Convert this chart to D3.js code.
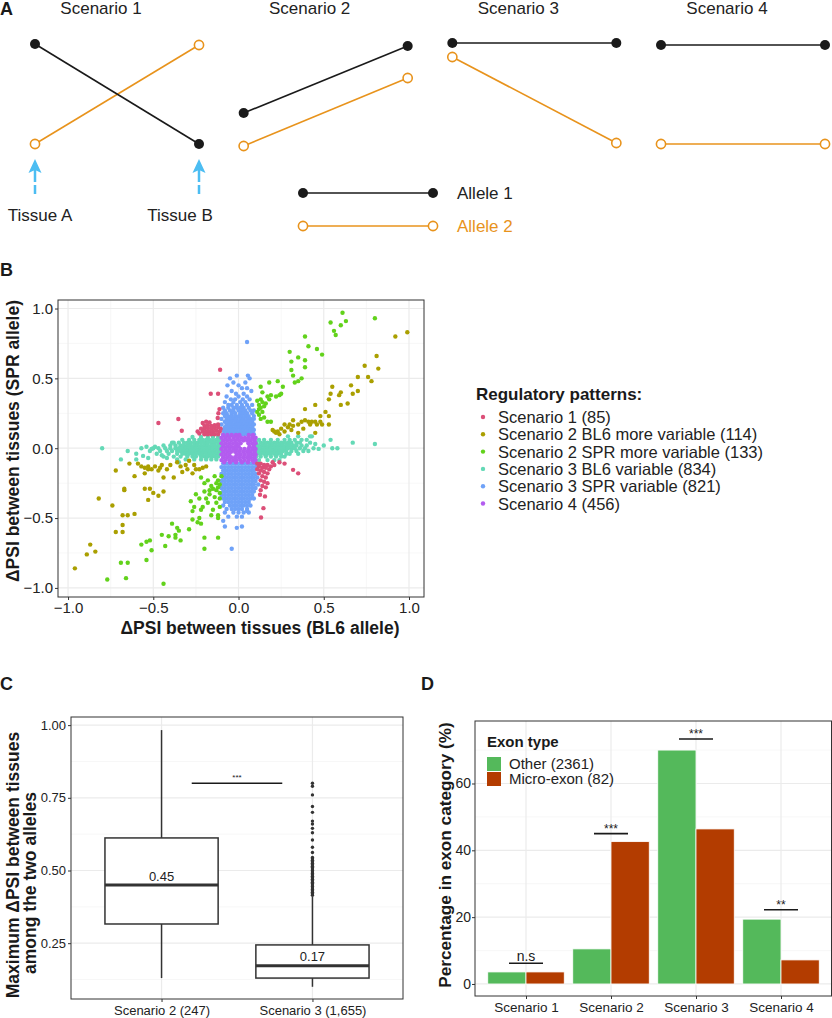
<!DOCTYPE html>
<html>
<head>
<meta charset="utf-8">
<script src="https://cdn.jsdelivr.net/npm/d3@7"></script>
<style>
  body { margin: 0; background: #fff; }
  svg { font-family: "Liberation Sans", Arial, sans-serif; }
</style>
</head>
<body>
<svg id="fig" width="832" height="1018"></svg>
<script>
// ---------- Panel A: schematic scenarios ----------
const aScenarios = ["Scenario 1", "Scenario 2", "Scenario 3", "Scenario 4"];
const aAllele1 = [[1.0, 0.0], [0.31, 0.98], [1.01, 1.01], [0.99, 0.99]];
const aAllele2 = [[0.0, 0.99], [-0.02, 0.66], [0.87, 0.01], [0.0, 0.0]];
const aTissues = ["Tissue A", "Tissue B"];
const alleleNames = ["Allele 1", "Allele 2"];

// ---------- Panel B: scatter ----------
const bCategories = ["Scenario 1 (85)", "Scenario 2 BL6 more variable (114)", "Scenario 2 SPR more variable (133)",
  "Scenario 3 BL6 variable (834)", "Scenario 3 SPR variable (821)", "Scenario 4 (456)"];
const bColors = ["#dc4f78", "#aa9f00", "#62d21b", "#64d9b6", "#6fa2f8", "#b35cef"];
const bTicks = [-1, -0.5, 0, 0.5, 1];

const s1Points = [[-0.108,0.562],[-0.163,0.39],[-0.12,0.39],[-0.353,0.209],[-0.47,0.18],[-0.333,0.125],[-0.112,0.28],
  [-0.122,0.216],[-0.118,0.25],[-0.21,0.18],[-0.19,0.19],[-0.17,0.185],[-0.2,0.16],[-0.18,0.165],[-0.16,0.16],[-0.14,0.165],
  [-0.12,0.17],[-0.22,0.14],[-0.2,0.14],[-0.18,0.145],[-0.16,0.14],[-0.14,0.145],[-0.12,0.15],[-0.105,0.14],[-0.21,0.12],
  [-0.19,0.12],[-0.17,0.12],[-0.15,0.12],[-0.13,0.125],[-0.11,0.12],[-0.2,0.1],[-0.18,0.1],[-0.16,0.1],[-0.14,0.1],
  [-0.12,0.1],[-0.23,0.105],[-0.24,0.12],[0.11,-0.11],[0.13,-0.11],[0.15,-0.12],[0.17,-0.12],[0.19,-0.13],[0.12,-0.13],
  [0.14,-0.14],[0.16,-0.14],[0.18,-0.15],[0.11,-0.15],[0.13,-0.16],[0.15,-0.17],[0.17,-0.18],[0.12,-0.18],[0.14,-0.2],
  [0.16,-0.21],[0.13,-0.23],[0.15,-0.24],[0.17,-0.25],[0.14,-0.27],[0.16,-0.28],[0.13,-0.3],[0.126,-0.333],[0.155,-0.345],
  [0.146,-0.429],[0.132,-0.496],[0.2,-0.1],[0.24,-0.1],[0.27,-0.11],[0.32,-0.155],[0.35,-0.18],[0.21,-0.12]];

const s2blPoints = [[-0.96,-0.86],[-0.89,-0.76],[-0.87,-0.69],[-0.84,-0.74],[-0.82,-0.36],[-0.74,-0.41],[-0.72,-0.16],
  [-0.72,-0.60],[-0.68,-0.60],[-0.68,-0.55],[-0.68,-0.48],[-0.65,-0.48],[-0.61,-0.47],[-0.67,-0.29],[-0.67,-0.30],
  [-0.64,-0.11],[-0.61,-0.20],[-0.59,-0.11],[-0.55,-0.14],[-0.55,-0.18],[-0.53,-0.15],[-0.55,-0.29],[-0.53,-0.37],
  [-0.52,-0.29],[-0.50,-0.32],[-0.47,-0.34],[-0.44,-0.31],[-0.51,-0.15],[-0.46,-0.14],[-0.44,-0.21],[-0.42,-0.15],
  [-0.40,-0.12],[-0.38,-0.21],[-0.34,-0.13],[-0.33,-0.17],[-0.30,-0.15],[-0.27,-0.18],[-0.25,-0.15],[-0.23,-0.15],
  [-0.21,-0.14],[-0.36,-0.10],[-0.29,-0.09],[-0.49,-0.13],[-0.47,-0.16],[-0.57,-0.13],[-0.53,-0.13],[-0.45,-0.12],
  [-0.31,-0.12],[-0.26,-0.12],[-0.19,-0.13],
  [0.99,0.83],[0.92,0.80],[0.81,0.66],[0.82,0.57],[0.74,0.59],[0.76,0.51],[0.78,0.48],[0.70,0.51],[0.66,0.45],[0.70,0.41],
  [0.64,0.32],[0.67,0.39],[0.60,0.40],[0.60,0.31],[0.59,0.38],[0.55,0.44],[0.54,0.39],[0.53,0.35],[0.51,0.26],[0.48,0.23],
  [0.49,0.17],[0.53,0.17],[0.53,0.23],[0.45,0.31],[0.45,0.19],[0.46,0.17],[0.39,0.28],[0.39,0.20],[0.37,0.19],[0.35,0.17],
  [0.32,0.16],[0.30,0.17],[0.29,0.15],[0.27,0.12],[0.23,0.12],[0.22,0.11],[0.21,0.12],[0.20,0.13],[0.45,0.11],[0.41,0.19],
  [0.43,0.19],[0.48,0.19],[0.32,0.20],[0.35,0.11],[0.38,0.14],[0.25,0.14],[0.27,0.17],[0.24,0.10],[0.31,0.13],[0.42,0.17]];

const s2sprPoints = [[0.61,0.97],[0.63,0.91],[0.54,0.90],[0.56,0.84],[0.57,0.81],[0.60,0.88],[0.80,0.93],[0.39,0.80],
  [0.41,0.73],[0.30,0.69],[0.35,0.65],[0.39,0.63],[0.46,0.71],[0.49,0.67],[0.31,0.62],[0.31,0.56],[0.39,0.58],[0.32,0.52],
  [0.33,0.47],[0.35,0.48],[0.37,0.50],[0.23,0.48],[0.26,0.44],[0.18,0.47],[0.13,0.44],[0.22,0.37],[0.24,0.38],[0.25,0.39],
  [0.19,0.38],[0.18,0.35],[0.17,0.37],[0.14,0.40],[0.13,0.35],[0.11,0.34],[0.16,0.32],[0.15,0.30],[0.12,0.28],[0.12,0.24],
  [0.15,0.22],[0.17,0.19],[0.14,0.26],[0.19,0.19],[0.12,0.31],[0.13,0.29],[0.11,0.26],[0.14,0.33],[0.13,0.21],
  [-0.44,-0.97],[-0.77,-0.94],[-0.66,-0.93],[-0.69,-0.82],[-0.65,-0.82],[-0.54,-0.80],[-0.51,-0.73],[-0.57,-0.69],
  [-0.54,-0.67],[-0.52,-0.66],[-0.43,-0.70],[-0.45,-0.62],[-0.41,-0.63],[-0.37,-0.62],[-0.37,-0.64],[-0.34,-0.66],
  [-0.39,-0.54],[-0.36,-0.57],[-0.35,-0.59],[-0.29,-0.58],[-0.27,-0.45],[-0.27,-0.51],[-0.24,-0.53],[-0.23,-0.50],
  [-0.22,-0.54],[-0.20,-0.64],[-0.20,-0.72],[-0.12,-0.64],[-0.22,-0.44],[-0.21,-0.42],[-0.18,-0.39],[-0.16,-0.48],
  [-0.12,-0.48],[-0.12,-0.50],[-0.11,-0.42],[-0.25,-0.33],[-0.23,-0.36],[-0.20,-0.31],[-0.19,-0.36],[-0.17,-0.33],
  [-0.14,-0.35],[-0.13,-0.39],[-0.20,-0.25],[-0.18,-0.23],[-0.16,-0.27],[-0.15,-0.29],[-0.13,-0.30],[-0.11,-0.32],
  [-0.12,-0.23],[-0.11,-0.26],[-0.10,-0.20],[-0.22,-0.21],[-0.14,-0.20],[-0.13,-0.25],[-0.28,-0.38],[-0.26,-0.42],
  [-0.15,-0.44],[-0.11,-0.36],[-0.17,-0.30],[-0.12,-0.28]];

// dense clusters, read row by row: [y, [x values]]
const s3blRows = [
  [0.08, [-0.27,-0.22,-0.18,-0.15,-0.12]],
  [0.06, [-0.33,-0.29,-0.26,-0.23,-0.21,-0.19,-0.17,-0.15,-0.13,-0.11]],
  [0.04, [-0.38,-0.35,-0.32,-0.30,-0.28,-0.26,-0.24,-0.22,-0.20,-0.18,-0.16,-0.14,-0.12,-0.105]],
  [0.02, [-0.44,-0.40,-0.37,-0.34,-0.32,-0.30,-0.28,-0.26,-0.24,-0.22,-0.20,-0.18,-0.16,-0.14,-0.12,-0.105]],
  [0.0, [-0.50,-0.47,-0.43,-0.40,-0.37,-0.35,-0.33,-0.31,-0.29,-0.27,-0.25,-0.23,-0.21,-0.19,-0.17,-0.15,-0.13,-0.11]],
  [-0.02, [-0.52,-0.46,-0.42,-0.39,-0.36,-0.34,-0.32,-0.30,-0.28,-0.26,-0.24,-0.22,-0.20,-0.18,-0.16,-0.14,-0.12,-0.105]],
  [-0.04, [-0.48,-0.41,-0.36,-0.33,-0.31,-0.29,-0.27,-0.25,-0.23,-0.21,-0.19,-0.17,-0.15,-0.13,-0.11]],
  [-0.06, [-0.44,-0.38,-0.34,-0.30,-0.27,-0.25,-0.22,-0.20,-0.18,-0.16,-0.14,-0.12]],
  [-0.08, [-0.36,-0.31,-0.26,-0.22,-0.19,-0.16,-0.13]],
  [0.085, [0.29,0.35,0.42]],
  [0.06, [0.12,0.15,0.19,0.23,0.27,0.30,0.33,0.37,0.40]],
  [0.04, [0.105,0.13,0.15,0.17,0.19,0.21,0.23,0.25,0.27,0.29,0.31,0.34,0.36,0.42]],
  [0.02, [0.105,0.12,0.14,0.16,0.18,0.20,0.22,0.24,0.26,0.28,0.30,0.32,0.34,0.37,0.40]],
  [0.0, [0.11,0.13,0.15,0.17,0.19,0.21,0.23,0.25,0.27,0.29,0.31,0.33,0.36,0.39,0.44]],
  [-0.02, [0.105,0.12,0.14,0.16,0.18,0.20,0.22,0.24,0.26,0.28,0.31,0.34,0.38,0.41]],
  [-0.04, [0.11,0.13,0.15,0.17,0.19,0.21,0.23,0.25,0.28,0.30,0.35]],
  [-0.06, [0.105,0.13,0.16,0.19,0.22,0.25,0.27]],
  [-0.085, [0.12,0.17,0.21,0.24]]
];
const s3blSparse = [[-0.80,0.0],[-0.69,-0.08],[-0.65,-0.02],[-0.60,-0.08],[-0.56,-0.055],[-0.53,-0.07],[-0.51,-0.005],
  [-0.49,0.01],[-0.54,0.01],[-0.42,-0.07],[-0.39,0.04],[-0.45,-0.05],[-0.35,-0.1],[-0.6,-0.04],[-0.57,0.0],
  [0.80,0.03],[0.67,0.04],[0.54,0.06],[0.55,0.0],[0.58,0.0],[0.47,-0.005],[0.43,0.085],[0.45,0.03],[0.50,0.02]];

const s3sprRows = [
  [0.52, [-0.01,0.055]], [0.50, [-0.05,0.065]], [0.47, [-0.03,0.04]], [0.45, [-0.065,0.0]], [0.43, [0.02,0.05]],
  [0.41, [-0.04,0.075]], [0.39, [-0.015,0.03]], [0.37, [-0.07,0.0,0.05]], [0.35, [-0.045,-0.02,0.025,0.065]],
  [0.33, [-0.08,-0.03,0.01,0.04]], [0.31, [-0.06,-0.04,-0.01,0.02,0.05,0.08]],
  [0.29, [-0.09,-0.06,-0.03,-0.01,0.01,0.03,0.06]], [0.27, [-0.08,-0.05,-0.03,0.0,0.02,0.04,0.07,0.09]],
  [0.25, [-0.09,-0.07,-0.04,-0.02,0.01,0.03,0.05,0.08]], [0.23, [-0.08,-0.06,-0.04,-0.02,0.0,0.02,0.04,0.06,0.09]],
  [0.21, [-0.1,-0.07,-0.05,-0.03,-0.01,0.01,0.03,0.05,0.07,0.09]], [0.19, [-0.08,-0.06,-0.04,-0.02,0.0,0.02,0.04,0.06,0.08]],
  [0.17, [-0.1,-0.07,-0.05,-0.03,-0.01,0.01,0.03,0.05,0.07,0.09]], [0.15, [-0.08,-0.06,-0.04,-0.02,0.0,0.02,0.04,0.06,0.08]],
  [0.13, [-0.09,-0.07,-0.05,-0.03,-0.01,0.01,0.03,0.05,0.07,0.09]], [0.11, [-0.08,-0.06,-0.04,-0.02,0.0,0.02,0.04,0.06,0.08]],
  [0.10, [-0.09,-0.07,-0.05,-0.03,-0.01,0.01,0.03,0.05,0.07,0.09]],
  [-0.11, [-0.09,-0.07,-0.05,-0.03,-0.01,0.01,0.03,0.05,0.07,0.09,0.105]],
  [-0.135, [-0.1,-0.08,-0.06,-0.04,-0.02,0.0,0.02,0.04,0.06,0.08,0.1]],
  [-0.16, [-0.09,-0.07,-0.05,-0.03,-0.01,0.01,0.03,0.05,0.07,0.09]],
  [-0.185, [-0.1,-0.08,-0.06,-0.04,-0.02,0.0,0.02,0.04,0.06,0.08,0.1]],
  [-0.21, [-0.09,-0.07,-0.05,-0.03,-0.01,0.01,0.03,0.05,0.07,0.09,0.11]],
  [-0.235, [-0.1,-0.08,-0.06,-0.04,-0.02,0.0,0.02,0.04,0.06,0.08,0.1]],
  [-0.26, [-0.09,-0.07,-0.05,-0.03,-0.01,0.01,0.03,0.05,0.07,0.09,0.115]],
  [-0.285, [-0.1,-0.08,-0.06,-0.04,-0.02,0.0,0.02,0.04,0.06,0.08,0.1]],
  [-0.31, [-0.09,-0.07,-0.05,-0.03,-0.01,0.01,0.03,0.05,0.07,0.09]],
  [-0.335, [-0.1,-0.08,-0.06,-0.04,-0.02,0.0,0.02,0.04,0.06,0.08]],
  [-0.36, [-0.09,-0.07,-0.05,-0.03,-0.01,0.01,0.03,0.05,0.07,0.09]],
  [-0.385, [-0.08,-0.06,-0.04,-0.02,0.0,0.02,0.04,0.06]],
  [-0.41, [-0.09,-0.05,-0.03,-0.01,0.01,0.03,0.05,0.07]],
  [-0.435, [-0.07,-0.04,-0.02,0.0,0.02,0.05]],
  [-0.46, [-0.08,-0.03,0.0,0.03,0.06]],
  [-0.49, [-0.06,-0.01,0.02]]
];
const s3sprSparse = [[0.05,0.76],[-0.04,-0.72],[-0.01,-0.57],[0.02,-0.56],[-0.08,-0.56],[-0.09,-0.52],[0.05,-0.45]];

const s4Rows = [
  [0.095, [-0.09,-0.065,-0.04,-0.015,0.005,0.06,0.085]],
  [0.075, [-0.1,-0.078,-0.055,-0.03,-0.008,0.015,0.038,0.06,0.082,0.1]],
  [0.055, [-0.09,-0.067,-0.044,-0.02,0.003,0.027,0.05,0.072,0.095]],
  [0.035, [-0.1,-0.078,-0.055,-0.032,-0.01,0.012,0.058,0.08,0.1]],
  [0.015, [-0.09,-0.067,-0.044,-0.02,0.0,0.065,0.09]],
  [-0.005, [-0.1,-0.078,-0.055,-0.032,-0.01,0.012,0.035,0.058,0.08,0.1]],
  [-0.025, [-0.09,-0.067,-0.044,-0.02,0.003,0.027,0.05,0.072,0.095]],
  [-0.045, [-0.1,-0.078,-0.055,-0.01,0.012,0.035,0.058,0.08,0.1]],
  [-0.065, [-0.09,-0.067,-0.044,-0.02,0.003,0.027,0.05,0.072,0.095]],
  [-0.085, [-0.1,-0.078,-0.055,-0.032,-0.01,0.012,0.035,0.058,0.08,0.1]],
  [-0.1, [-0.085,-0.05,-0.015,0.02,0.055,0.09]]
];

// ---------- Panel C: boxplot ----------
const cCategories = ["Scenario 2 (247)", "Scenario 3 (1,655)"];
const cWhiskerLow = [0.13, 0.10];
const cQ1 = [0.316, 0.13];
const cMedian = [0.45, 0.172];
const cQ3 = [0.612, 0.244];
const cWhiskerHigh = [0.983, 0.41];
const cMedianLabels = ["0.45", "0.17"];
const cOutliers3 = [0.80,0.79,0.76,0.72,0.70,0.67,0.66,0.645,0.63,0.605,0.58,0.562,0.545,0.54,0.535,0.53,0.525,0.52,
  0.515,0.51,0.505,0.50,0.495,0.49,0.485,0.48,0.475,0.47,0.465,0.46,0.455,0.45,0.445,0.44,0.435,0.43,0.425,0.42,0.415];
const cTicks = [0.25, 0.50, 0.75, 1.00];
const cSigY = 0.80;

// ---------- Panel D: bars ----------
const dCategories = ["Scenario 1", "Scenario 2", "Scenario 3", "Scenario 4"];
const dOther = [3.6, 10.5, 70.0, 19.4];
const dMicro = [3.6, 42.6, 46.4, 7.2];
const dSigLabels = ["n.s", "***", "***", "**"];
const dSigY = [6.2, 45.0, 73.3, 22.2];
const dTicks = [0, 20, 40, 60];
const dLegend = ["Other (2361)", "Micro-exon (82)"];
const dColors = ["#54b95b", "#b33c00"];

// ---------- drawing ----------
const svg = d3.select("#fig");
const ink = "#1a1a1a";
const orange = "#e8931c";
const gridMajor = "#ebebeb";
const gridMinor = "#f3f3f3";
const fam = '"Liberation Sans", Arial, sans-serif';

function letter(t, x, y) {
  svg.append("text").attr("x", x).attr("y", y).attr("font-size", 18).attr("font-weight", "bold")
    .attr("fill", ink).text(t);
}
function styleAxis(g, size) {
  g.select(".domain").remove();
  g.selectAll("line").attr("stroke", "#333");
  g.selectAll("text").attr("font-size", size).attr("font-family", fam).attr("fill", "#222");
}

// Panel A
letter("A", 0, 15);
const gA = svg.append("g");
const xStartA = d3.scaleLinear().domain([0, 3]).range([35, 661]);
const xTissueA = d3.scaleLinear().domain([0, 1]).range([0, 164]);
const yA = d3.scaleLinear().domain([0, 1]).range([144, 44]);

aScenarios.forEach((name, i) => {
  const x0 = xStartA(i);
  gA.append("text").attr("x", x0 + 66).attr("y", 14).attr("text-anchor", "middle")
    .attr("font-size", 17).attr("fill", "#222").text(name);
  [aAllele2[i], aAllele1[i]].forEach((vals, k) => {
    const black = k === 1;
    const col = black ? ink : orange;
    gA.append("line").attr("x1", x0 + xTissueA(0)).attr("y1", yA(vals[0]))
      .attr("x2", x0 + xTissueA(1)).attr("y2", yA(vals[1]))
      .attr("stroke", col).attr("stroke-width", 1.6);
    vals.forEach((v, t) => {
      gA.append("circle").attr("cx", x0 + xTissueA(t)).attr("cy", yA(v))
        .attr("r", black ? 5 : 4.6).attr("fill", black ? ink : "#fff")
        .attr("stroke", black ? "none" : col).attr("stroke-width", 1.6);
    });
  });
});

// tissue arrows under scenario 1
const tissueLabelX = [40, 180];
aTissues.forEach((t, j) => {
  const x = xStartA(0) + xTissueA(j);
  gA.append("line").attr("x1", x).attr("x2", x).attr("y1", 168).attr("y2", 194)
    .attr("stroke", "#4cbdf2").attr("stroke-width", 2.5).attr("stroke-dasharray", "14,3");
  gA.append("path").attr("d", `M${x},159 L${x + 6.5},173 L${x},170 L${x - 6.5},173 Z`).attr("fill", "#4cbdf2");
  gA.append("text").attr("x", tissueLabelX[j]).attr("y", 221).attr("text-anchor", "middle")
    .attr("font-size", 17).attr("fill", "#222").text(t);
});

// allele legend
alleleNames.forEach((name, k) => {
  const y = 193 + k * 33;
  const col = k === 0 ? ink : orange;
  gA.append("line").attr("x1", 303).attr("x2", 433).attr("y1", y).attr("y2", y)
    .attr("stroke", col).attr("stroke-width", 1.6);
  [303, 433].forEach(x => gA.append("circle").attr("cx", x).attr("cy", y)
    .attr("r", k === 0 ? 5 : 4.6).attr("fill", k === 0 ? ink : "#fff")
    .attr("stroke", k === 0 ? "none" : col).attr("stroke-width", 1.6));
  gA.append("text").attr("x", 457).attr("y", y + 6).attr("font-size", 17)
    .attr("fill", k === 0 ? "#222" : orange).text(name);
});

// Panel B
letter("B", 0, 276);
const gB = svg.append("g");
const xB = d3.scaleLinear().domain([-1.059, 1.088]).range([58, 424]);
const yB = d3.scaleLinear().domain([-1.065, 1.061]).range([597, 300]);
const bMinor = [-0.75, -0.25, 0.25, 0.75];

bMinor.forEach(v => {
  gB.append("line").attr("x1", xB(v)).attr("x2", xB(v)).attr("y1", 300).attr("y2", 597).attr("stroke", gridMinor).attr("stroke-width", 0.7);
  gB.append("line").attr("y1", yB(v)).attr("y2", yB(v)).attr("x1", 58).attr("x2", 424).attr("stroke", gridMinor).attr("stroke-width", 0.7);
});
bTicks.forEach(v => {
  gB.append("line").attr("x1", xB(v)).attr("x2", xB(v)).attr("y1", 300).attr("y2", 597).attr("stroke", gridMajor).attr("stroke-width", 1.2);
  gB.append("line").attr("y1", yB(v)).attr("y2", yB(v)).attr("x1", 58).attr("x2", 424).attr("stroke", gridMajor).attr("stroke-width", 1.2);
});

const rowsToPoints = rows => rows.flatMap(([y, xs]) => xs.map(x => [x, y]));
const bSeries = [
  { idx: 3, pts: rowsToPoints(s3blRows).concat(s3blSparse) },
  { idx: 4, pts: rowsToPoints(s3sprRows).concat(s3sprSparse) },
  { idx: 5, pts: rowsToPoints(s4Rows) },
  { idx: 0, pts: s1Points },
  { idx: 1, pts: s2blPoints },
  { idx: 2, pts: s2sprPoints }
];
bSeries.forEach(s => {
  gB.append("g").selectAll("circle").data(s.pts).enter().append("circle")
    .attr("cx", d => xB(d[0])).attr("cy", d => yB(d[1])).attr("r", 2.2)
    .attr("fill", bColors[s.idx]);
});

gB.append("rect").attr("x", 58).attr("y", 300).attr("width", 366).attr("height", 297)
  .attr("fill", "none").attr("stroke", "#333").attr("stroke-width", 1);

const fmt1 = d3.format(".1f");
styleAxis(gB.append("g").attr("transform", "translate(58,0)")
  .call(d3.axisLeft(yB).tickValues(bTicks).tickSize(3).tickPadding(2).tickFormat(fmt1)), 15);
styleAxis(gB.append("g").attr("transform", "translate(0,597)")
  .call(d3.axisBottom(xB).tickValues(bTicks).tickSize(3).tickPadding(2).tickFormat(fmt1)), 15);

gB.append("text").attr("x", 260).attr("y", 634).attr("text-anchor", "middle").attr("font-size", 17.5)
  .attr("font-weight", "bold").attr("fill", ink).text("ΔPSI between tissues (BL6 allele)");
gB.append("text").attr("transform", "translate(19,441) rotate(-90)").attr("text-anchor", "middle")
  .attr("font-size", 17.5).attr("font-weight", "bold").attr("fill", ink).text("ΔPSI between tissues (SPR allele)");

// legend B
gB.append("text").attr("x", 476).attr("y", 400).attr("font-size", 17).attr("font-weight", "bold")
  .attr("fill", ink).text("Regulatory patterns:");
bCategories.forEach((c, i) => {
  const y = 417 + i * 17.3;
  gB.append("circle").attr("cx", 483).attr("cy", y).attr("r", 2.2).attr("fill", bColors[i]);
  gB.append("text").attr("x", 498).attr("y", y + 6).attr("font-size", 16.5).attr("fill", "#222").text(c);
});

// Panel C
letter("C", 0, 690);
const gC = svg.append("g");
const xC = d3.scalePoint().domain(cCategories).range([71, 403]).padding(0.6);
const yC = d3.scaleLinear().domain([0.058, 1.028]).range([999, 717]);
const stepC = xC.step();

[0.125, 0.375, 0.625, 0.875].forEach(v => gC.append("line").attr("x1", 71).attr("x2", 403)
  .attr("y1", yC(v)).attr("y2", yC(v)).attr("stroke", gridMinor).attr("stroke-width", 0.7));
cTicks.forEach(v => gC.append("line").attr("x1", 71).attr("x2", 403)
  .attr("y1", yC(v)).attr("y2", yC(v)).attr("stroke", gridMajor).attr("stroke-width", 1.2));
cCategories.forEach(c => gC.append("line").attr("x1", xC(c)).attr("x2", xC(c))
  .attr("y1", 717).attr("y2", 999).attr("stroke", gridMajor).attr("stroke-width", 1.2));

cCategories.forEach((c, i) => {
  const cx = xC(c), hw = stepC * 0.375;
  gC.append("line").attr("x1", cx).attr("x2", cx).attr("y1", yC(cWhiskerLow[i])).attr("y2", yC(cQ1[i]))
    .attr("stroke", "#333").attr("stroke-width", 1.5);
  gC.append("line").attr("x1", cx).attr("x2", cx).attr("y1", yC(cQ3[i])).attr("y2", yC(cWhiskerHigh[i]))
    .attr("stroke", "#333").attr("stroke-width", 1.5);
  gC.append("rect").attr("x", cx - hw).attr("width", hw * 2).attr("y", yC(cQ3[i]))
    .attr("height", yC(cQ1[i]) - yC(cQ3[i])).attr("fill", "#fff").attr("stroke", "#333").attr("stroke-width", 1.5);
  gC.append("line").attr("x1", cx - hw).attr("x2", cx + hw).attr("y1", yC(cMedian[i])).attr("y2", yC(cMedian[i]))
    .attr("stroke", "#333").attr("stroke-width", 3);
  gC.append("text").attr("x", cx).attr("y", yC(cMedian[i]) - 4.5).attr("text-anchor", "middle")
    .attr("font-size", 13).attr("fill", "#222").text(cMedianLabels[i]);
});
gC.append("g").selectAll("circle").data(cOutliers3).enter().append("circle")
  .attr("cx", xC(cCategories[1])).attr("cy", d => yC(d)).attr("r", 1.7).attr("fill", "#333");

// significance bar C
gC.append("line").attr("x1", xC(cCategories[0]) + stepC * 0.2).attr("x2", xC(cCategories[1]) - stepC * 0.2)
  .attr("y1", yC(cSigY)).attr("y2", yC(cSigY)).attr("stroke", ink).attr("stroke-width", 1.5);
gC.append("text").attr("x", (xC(cCategories[0]) + xC(cCategories[1])) / 2).attr("y", yC(cSigY) - 3.5)
  .attr("text-anchor", "middle").attr("font-size", 8).attr("fill", ink).text("***");

gC.append("rect").attr("x", 71).attr("y", 717).attr("width", 332).attr("height", 282)
  .attr("fill", "none").attr("stroke", "#333").attr("stroke-width", 1);
styleAxis(gC.append("g").attr("transform", "translate(71,0)")
  .call(d3.axisLeft(yC).tickValues(cTicks).tickSize(3).tickPadding(2).tickFormat(d3.format(".2f"))), 13);
styleAxis(gC.append("g").attr("transform", "translate(0,999)")
  .call(d3.axisBottom(xC).tickSize(3).tickPadding(3.5)), 13);

gC.append("text").attr("transform", "translate(19,865) rotate(-90)").attr("text-anchor", "middle")
  .attr("font-size", 17.5).attr("font-weight", "bold").attr("fill", ink).text("Maximum ΔPSI between tissues");
gC.append("text").attr("transform", "translate(36,883) rotate(-90)").attr("text-anchor", "middle")
  .attr("font-size", 17.5).attr("font-weight", "bold").attr("fill", ink).text("among the two alleles");

// Panel D
letter("D", 421, 690);
const gD = svg.append("g");
const xD = d3.scalePoint().domain(dCategories).range([475, 832]).padding(0.6);
const yD = d3.scaleLinear().domain([-3.6, 78.7]).range([996, 721]);
const stepD = xD.step();

[10, 30, 50, 70].forEach(v => gD.append("line").attr("x1", 475).attr("x2", 832)
  .attr("y1", yD(v)).attr("y2", yD(v)).attr("stroke", gridMinor).attr("stroke-width", 0.7));
dTicks.forEach(v => gD.append("line").attr("x1", 475).attr("x2", 832)
  .attr("y1", yD(v)).attr("y2", yD(v)).attr("stroke", gridMajor).attr("stroke-width", 1.2));
dCategories.forEach(c => gD.append("line").attr("x1", xD(c)).attr("x2", xD(c))
  .attr("y1", 721).attr("y2", 996).attr("stroke", gridMajor).attr("stroke-width", 1.2));

const barW = stepD * 0.45;
[dOther, dMicro].forEach((vals, k) => {
  gD.append("g").selectAll("rect").data(vals).enter().append("rect")
    .attr("x", (d, i) => xD(dCategories[i]) - (k === 0 ? barW : 0))
    .attr("width", barW)
    .attr("y", d => yD(d)).attr("height", d => yD(0) - yD(d))
    .attr("fill", dColors[k]).attr("stroke", "#fff").attr("stroke-width", 0.8);
});

dCategories.forEach((c, i) => {
  const cx = xD(c);
  gD.append("line").attr("x1", cx - stepD * 0.2).attr("x2", cx + stepD * 0.2)
    .attr("y1", yD(dSigY[i])).attr("y2", yD(dSigY[i])).attr("stroke", ink).attr("stroke-width", 1.6);
  const ns = dSigLabels[i] === "n.s";
  gD.append("text").attr("x", cx).attr("y", yD(dSigY[i]) - (ns ? 2 : 1))
    .attr("text-anchor", "middle").attr("font-size", ns ? 14 : 12).attr("fill", ink).text(dSigLabels[i]);
});

gD.append("rect").attr("x", 475).attr("y", 721).attr("width", 356.5).attr("height", 275)
  .attr("fill", "none").attr("stroke", "#333").attr("stroke-width", 1);
styleAxis(gD.append("g").attr("transform", "translate(475,0)")
  .call(d3.axisLeft(yD).tickValues(dTicks).tickSize(3).tickPadding(1)), 14);
styleAxis(gD.append("g").attr("transform", "translate(0,996)")
  .call(d3.axisBottom(xD).tickSize(3).tickPadding(3)), 13.5);

gD.append("text").attr("transform", "translate(451,855) rotate(-90)").attr("text-anchor", "middle")
  .attr("font-size", 17.2).attr("font-weight", "bold").attr("fill", ink).text("Percentage in exon category (%)");

// legend D
gD.append("text").attr("x", 487).attr("y", 747).attr("font-size", 15).attr("font-weight", "bold")
  .attr("fill", ink).text("Exon type");
dLegend.forEach((name, k) => {
  gD.append("rect").attr("x", 487).attr("y", 757 + k * 15).attr("width", 14).attr("height", 14).attr("fill", dColors[k]);
  gD.append("text").attr("x", 509).attr("y", 768.5 + k * 15).attr("font-size", 15).attr("fill", "#222").text(name);
});
</script>
</body>
</html>
